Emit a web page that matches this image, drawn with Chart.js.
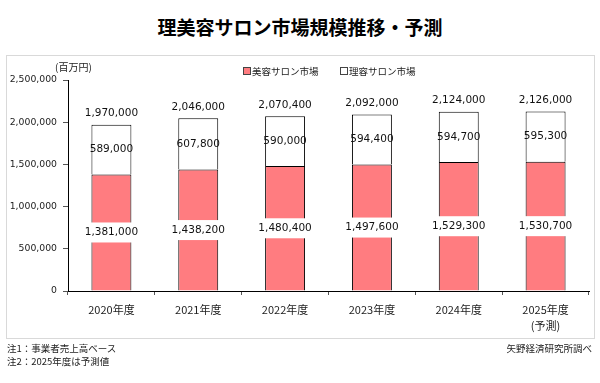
<!DOCTYPE html>
<html><head><meta charset="utf-8">
<script src="https://cdn.jsdelivr.net/npm/chart.js@4.4.0/dist/chart.umd.min.js"></script>
<style>
html,body{margin:0;padding:0;background:#fff;width:600px;height:383px;overflow:hidden;font-family:"Noto Sans CJK JP",sans-serif;}
#title{position:absolute;left:0;top:15px;width:600px;text-align:center;font-size:19px;font-weight:bold;line-height:24px;color:#000;}
#box{position:absolute;left:6px;top:55px;width:587px;height:282px;border:1px solid #d9d9d9;}
#wrap{position:absolute;left:0;top:0;width:600px;height:383px;}
.t{position:absolute;font-size:9.5px;line-height:12px;color:#222;white-space:nowrap;}
.sq{position:absolute;width:6px;height:6px;border:1px solid #444;}
</style></head>
<body>
<div id="title">理美容サロン市場規模推移・予測</div>
<div id="box"></div>
<div id="wrap"><canvas id="c" width="600" height="383"></canvas></div>
<div class="t" style="left:55px;top:61px;font-size:10px;">(百万円)</div>
<div class="sq" style="left:243px;top:67px;background:#FF7C80;"></div>
<div class="t" style="left:252px;top:65px;">美容サロン市場</div>
<div class="sq" style="left:340px;top:67px;background:#fff;"></div>
<div class="t" style="left:349px;top:65px;">理容サロン市場</div>
<div class="t" style="left:7px;top:342px;">注1：事業者売上高ベース</div>
<div class="t" style="left:7px;top:355px;">注2：2025年度は予測値</div>
<div class="t" style="right:8px;top:342px;">矢野経済研究所調べ</div>
<script>
const categories = [['2020年度'], ['2021年度'], ['2022年度'], ['2023年度'], ['2024年度'], ['2025年度', '(予測)']];
const beautyValues = [1381000, 1438200, 1480400, 1497600, 1529300, 1530700];
const barberValues = [589000, 607800, 590000, 594400, 594700, 595300];
const totalValues = [1970000, 2046000, 2070400, 2092000, 2124000, 2126000];
const yMin = 0, yMax = 2500000, yStep = 500000;

const fmt = v => Number(v).toLocaleString('en-US');

const labelPlugin = {
  id: 'valueLabels',
  afterDatasetsDraw(chart) {
    const ctx = chart.ctx;
    ctx.save();
    ctx.font = '10.5px "DejaVu Sans"';
    ctx.textAlign = 'center';
    ctx.textBaseline = 'middle';
    const m0 = chart.getDatasetMeta(0), m1 = chart.getDatasetMeta(1);
    m0.data.forEach((bar, i) => {
      const y = (bar.y + bar.base) / 2;
      const txt = fmt(beautyValues[i]);
      const w = ctx.measureText(txt).width + 2;
      ctx.fillStyle = '#fff';
      ctx.fillRect(bar.x - w / 2, y - 10, w, 20);
      ctx.fillStyle = '#111';
      ctx.fillText(txt, bar.x, y);
    });
    m1.data.forEach((bar, i) => {
      const y = (bar.y + bar.base) / 2;
      ctx.fillStyle = '#111';
      ctx.fillText(fmt(barberValues[i]), bar.x, y);
      ctx.fillText(fmt(totalValues[i]), bar.x, bar.y - 11);
    });
    ctx.restore();
  }
};

new Chart(document.getElementById('c'), {
  type: 'bar',
  data: {
    labels: categories,
    datasets: [
      { label: '美容サロン市場', data: beautyValues, backgroundColor: '#FF7C80', borderColor: '#000', borderWidth: 1 },
      { label: '理容サロン市場', data: barberValues, backgroundColor: '#fff', borderColor: '#000', borderWidth: 1 }
    ]
  },
  options: {
    responsive: false,
    devicePixelRatio: 1,
    animation: false,
    layout: { padding: { left: 0, right: 11, top: 80, bottom: 42 } },
    datasets: { bar: { categoryPercentage: 1, barPercentage: 0.46 } },
    plugins: { legend: { display: false }, tooltip: { enabled: false }, title: { display: false } },
    scales: {
      x: {
        stacked: true,
        grid: { display: true, drawOnChartArea: false, drawTicks: true, tickLength: 4, color: '#555', offset: true },
        border: { display: true, color: '#000', width: 1 },
        ticks: { font: { family: '"Noto Sans CJK JP"', size: 11, lineHeight: 16 / 11 }, color: '#222', padding: 7, maxRotation: 0, autoSkip: false },
        afterFit(s) { s.height = 50; }
      },
      y: {
        stacked: true,
        min: yMin, max: yMax,
        grid: { display: true, drawOnChartArea: false, drawTicks: true, tickLength: 5, color: '#555' },
        border: { display: true, color: '#000', width: 1 },
        ticks: { stepSize: yStep, callback: v => fmt(v), font: { family: '"DejaVu Sans"', size: 9.3 }, color: '#222', padding: 6 },
        afterFit(s) { s.width = 68; }
      }
    }
  },
  plugins: [labelPlugin]
});
</script>
</body></html>
